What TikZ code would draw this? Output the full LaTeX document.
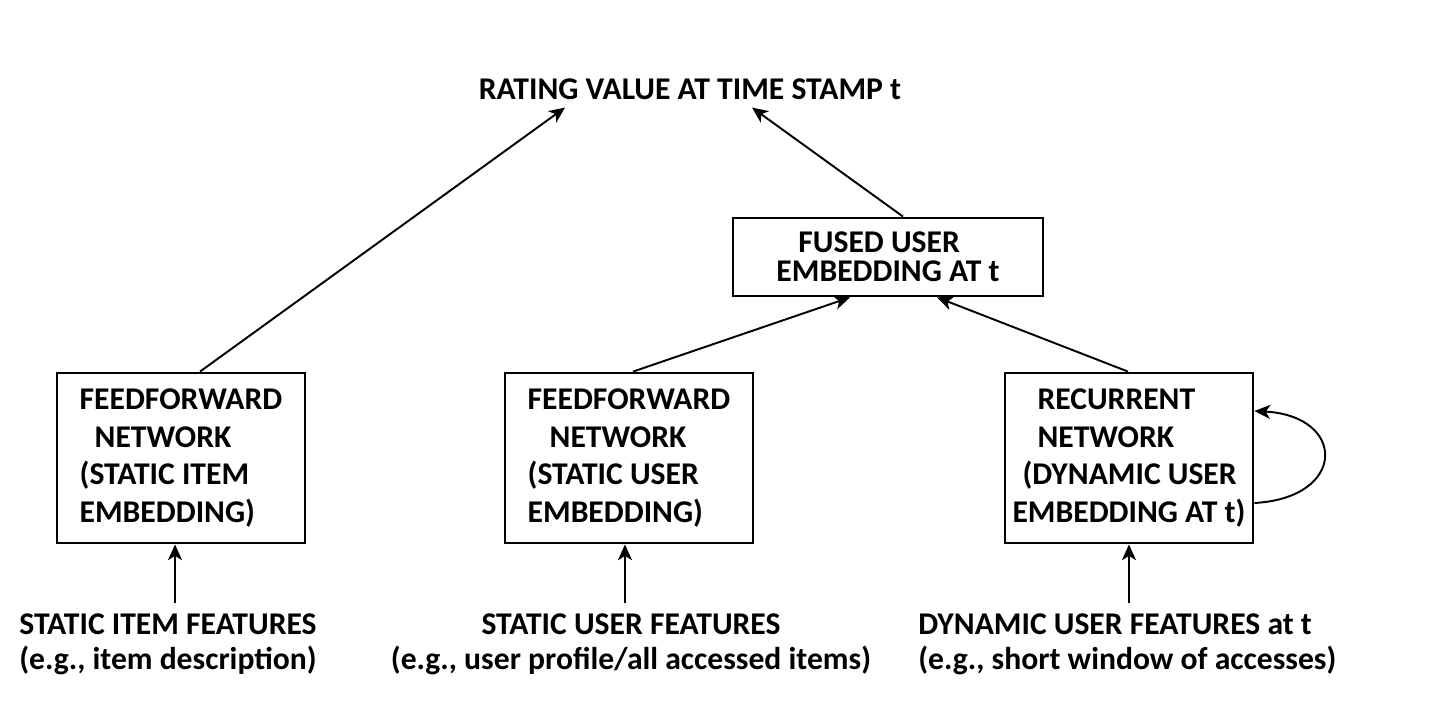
\documentclass[tikz,border=0pt]{standalone}
\usepackage{fontspec}
\setmainfont{Carlito}
\usetikzlibrary{arrows.meta, positioning, calc}
\tikzstyle{netblock} = [draw, line width=1.6pt, minimum width=4.96cm, minimum height=3.4cm, inner sep=0pt, align=left, font=\fontsize{18}{21.4}\selectfont\bfseries]
\tikzstyle{fuseblock} = [draw, line width=1.6pt, minimum width=6.2cm, minimum height=1.56cm, inner sep=0pt, align=left, font=\fontsize{18}{16.5}\selectfont\bfseries]
\tikzstyle{featlabel} = [inner xsep=0pt, inner ysep=0.2cm, font=\fontsize{18}{19.9}\selectfont\bfseries]
\tikzstyle{arrow} = [line width=1.1pt, -{Stealth[length=9pt, width=8pt, inset=2.5pt]}]

\begin{document}
\begin{tikzpicture}
        \useasboundingbox (0,0) rectangle (28.6,-14.36);

        % Output
        \node[inner sep=0pt, inner ysep=0.14cm, anchor=base, font=\fontsize{18}{19}\selectfont\bfseries] (rating) at (13.8,-2.0) {RATING VALUE AT TIME STAMP t};

        % Networks
        \node[netblock] (ffitem) at (3.62,-9.16) {FEEDFORWARD\\\hspace*{0.3cm}NETWORK\\(STATIC ITEM\\EMBEDDING)};
        \node[netblock] (ffuser) at (12.58,-9.16) {FEEDFORWARD\\\hspace*{0.44cm}NETWORK\\(STATIC USER\\EMBEDDING)};
        \node[netblock] (rnn) at (22.58,-9.16) {\hspace*{0.5cm}RECURRENT\\\hspace*{0.5cm}NETWORK\\\hspace*{0.2cm}(DYNAMIC USER\\EMBEDDING AT t)};

        % Fused embedding
        \node[fuseblock] (fused) at (17.76,-5.14) {\hspace*{0.44cm}FUSED USER\\EMBEDDING AT t};

        % Inputs
        \node[featlabel, align=center, anchor=north] (featitem) at (3.36,-12.06) {STATIC ITEM FEATURES\\(e.g., item description)};
        \node[featlabel, align=center, anchor=north] (featuser) at (12.62,-12.06) {STATIC USER FEATURES\\(e.g., user profile/all accessed items)};
        \node[featlabel, align=left, anchor=north west] (featdyn) at (18.36,-12.06) {DYNAMIC USER FEATURES at t\\(e.g., short window of accesses)};

        % Arrows
        \draw[arrow] ([xshift=-0.12cm]ffitem.south |- featitem.north) -- ([xshift=-0.12cm]ffitem.south);
        \draw[arrow] ([xshift=-0.08cm]ffuser.south |- featuser.north) -- ([xshift=-0.08cm]ffuser.south);
        \draw[arrow] (rnn.south |- featdyn.north) -- (rnn.south);
        \draw[arrow] ([xshift=0.38cm]ffitem.north) -- ([xshift=-2.5cm]rating.south);
        \draw[arrow] ([xshift=0.3cm]fused.north) -- ([xshift=1.24cm]rating.south);
        \draw[arrow] ([xshift=0.08cm]ffuser.north) -- ([xshift=-0.76cm]fused.south);
        \draw[arrow] ([xshift=-0.02cm]rnn.north) -- ([xshift=0.98cm]fused.south);
        \draw[arrow] ([yshift=-0.9cm]rnn.east) .. controls +(1.85,0.1) and +(1.85,-0.1) .. ([yshift=0.94cm]rnn.east);
    \end{tikzpicture}
\end{document}
